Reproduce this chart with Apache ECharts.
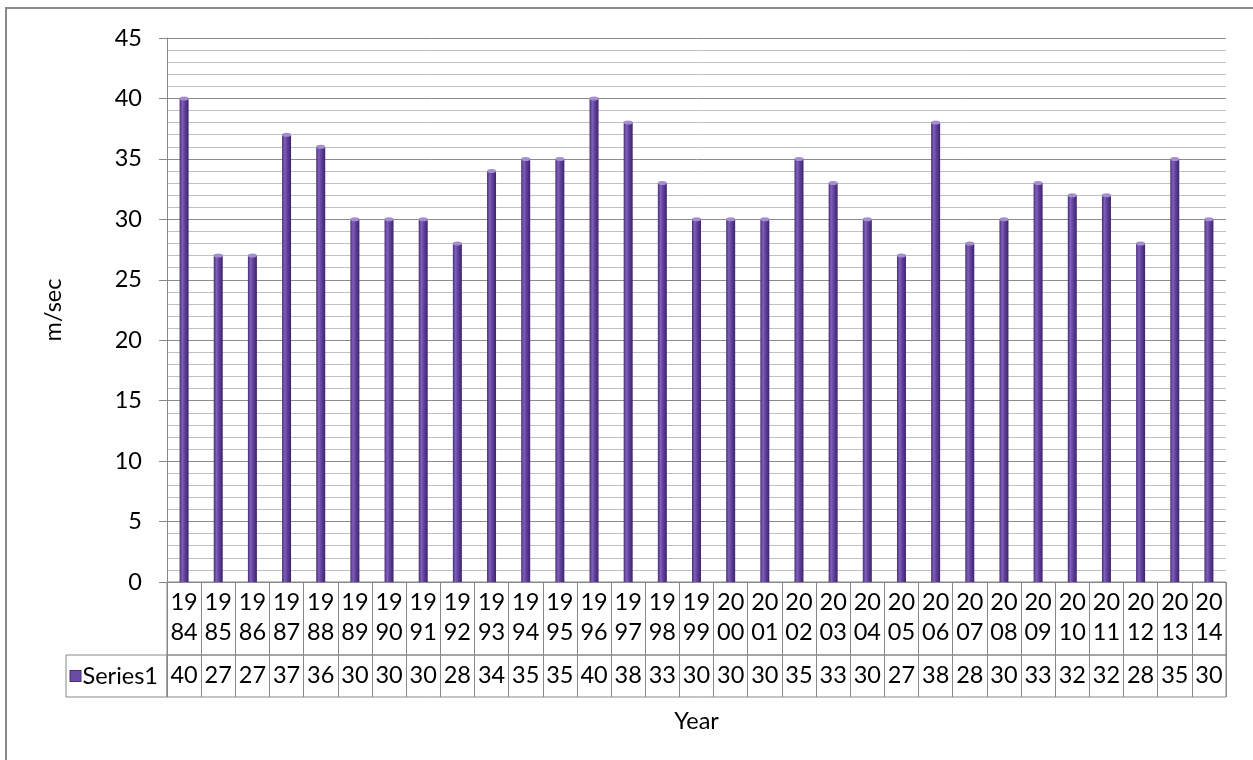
<!DOCTYPE html>
<html>
<head>
<meta charset="utf-8">
<script src="https://cdn.jsdelivr.net/npm/echarts@6/dist/echarts.min.js"></script>
<style>
html,body{margin:0;padding:0;background:#fff;}
#main{width:1253px;height:760px;}
</style>
</head>
<body>
<div id="main"></div>
<script>
var years = ['1984','1985','1986','1987','1988','1989','1990','1991','1992','1993','1994','1995','1996','1997','1998','1999','2000','2001','2002','2003','2004','2005','2006','2007','2008','2009','2010','2011','2012','2013','2014'];
var values = [40,27,27,37,36,30,30,30,28,34,35,35,40,38,33,30,30,30,35,33,30,27,38,28,30,33,32,32,28,35,30];
var seriesName = 'Series1';
var yTicks = {min:0, max:45, interval:5};

var FONT = 'Lato';
var FS = 23.5;
var GRID_C = '#888888';
var chart = echarts.init(document.getElementById('main'));
var barColor = new echarts.graphic.LinearGradient(0,0,1,0,[
  {offset:0,color:'#4a2c7c'},
  {offset:0.3,color:'#8060b8'},
  {offset:0.55,color:'#6243a0'},
  {offset:1,color:'#3e2368'}
]);
var option = {
  animation:false,
  backgroundColor:'#fff',
  textStyle:{fontFamily:FONT},
  graphic:[{type:'rect',shape:{x:6,y:8,width:1252,height:800},style:{fill:'none',stroke:'#8a8a8a',lineWidth:2},silent:true,z:-1}],
  grid:[
    {left:167,right:27,top:38,bottom:178},
    {left:167,right:27,top:582,height:73,show:true,borderColor:GRID_C,borderWidth:1},
    {left:167,right:27,top:655,height:42,show:true,borderColor:GRID_C,borderWidth:1},
    {left:66,width:101,top:655,height:42,show:true,borderColor:GRID_C,borderWidth:1}
  ],
  xAxis:[
    {type:'category',gridIndex:0,data:years,
     axisLine:{show:true,lineStyle:{color:GRID_C}},axisTick:{show:false},
     axisLabel:{interval:0,margin:5,fontSize:FS,lineHeight:30,color:'#000',fontFamily:FONT,
       formatter:function(v){return v.slice(0,2)+'\n'+v.slice(2);}}},
    {type:'category',gridIndex:0,data:values.map(String),position:'bottom',offset:73,
     axisLine:{show:false},axisTick:{show:false},
     axisLabel:{interval:0,margin:5,fontSize:FS,lineHeight:30,color:'#000',fontFamily:FONT}},
    {type:'category',gridIndex:1,data:years,axisLine:{show:false},axisTick:{show:false},axisLabel:{show:false},
     splitLine:{show:true,interval:0,lineStyle:{color:GRID_C,width:1}}},
    {type:'category',gridIndex:2,data:years,axisLine:{show:false},axisTick:{show:false},axisLabel:{show:false},
     splitLine:{show:true,interval:0,lineStyle:{color:GRID_C,width:1}},
     name:'Year',nameLocation:'middle',nameGap:12,nameTextStyle:{fontSize:FS,color:'#000',fontFamily:FONT}},
    {type:'category',gridIndex:3,data:[''],show:false}
  ],
  yAxis:[
    {type:'value',gridIndex:0,min:yTicks.min,max:yTicks.max,interval:yTicks.interval,
     name:'m/sec',nameLocation:'middle',nameGap:102,nameRotate:90,
     nameTextStyle:{fontSize:FS,color:'#000',fontFamily:FONT},
     axisLine:{show:true,lineStyle:{color:GRID_C}},
     axisTick:{show:true,length:8,lineStyle:{color:GRID_C}},
     axisLabel:{fontSize:FS,color:'#000',margin:25,fontFamily:FONT},
     splitLine:{show:true,lineStyle:{color:'#8c8c8c',width:1}},
     minorTick:{show:false,splitNumber:5},
     minorSplitLine:{show:true,lineStyle:{color:'#c0c0c0',width:1}}},
    {type:'value',gridIndex:1,show:false},
    {type:'category',gridIndex:2,data:[seriesName],axisLine:{show:false},axisTick:{show:false},
     axisLabel:{margin:9,fontSize:FS,color:'#000',fontFamily:FONT,
       formatter:function(v){return '{sq|}{t|'+v+'}';},
       rich:{sq:{width:10,height:10,backgroundColor:'#6a4ba6',borderColor:'#4a2c7c',borderWidth:1},
             t:{fontSize:FS,fontFamily:FONT,color:'#000',padding:[0,0,0,2]}}}},
    {type:'value',gridIndex:3,show:false}
  ],
  series:[
    {type:'bar',name:seriesName,xAxisIndex:0,yAxisIndex:0,data:values,barWidth:9,
     itemStyle:{color:barColor}},
    {type:'pictorialBar',xAxisIndex:0,yAxisIndex:0,data:values,symbol:'circle',
     symbolSize:[9,4],symbolPosition:'end',symbolOffset:[0,'-50%'],z:3,
     itemStyle:{color:'#a58ed0'},silent:true}
  ]
};
chart.setOption(option);
</script>
</body>
</html>
